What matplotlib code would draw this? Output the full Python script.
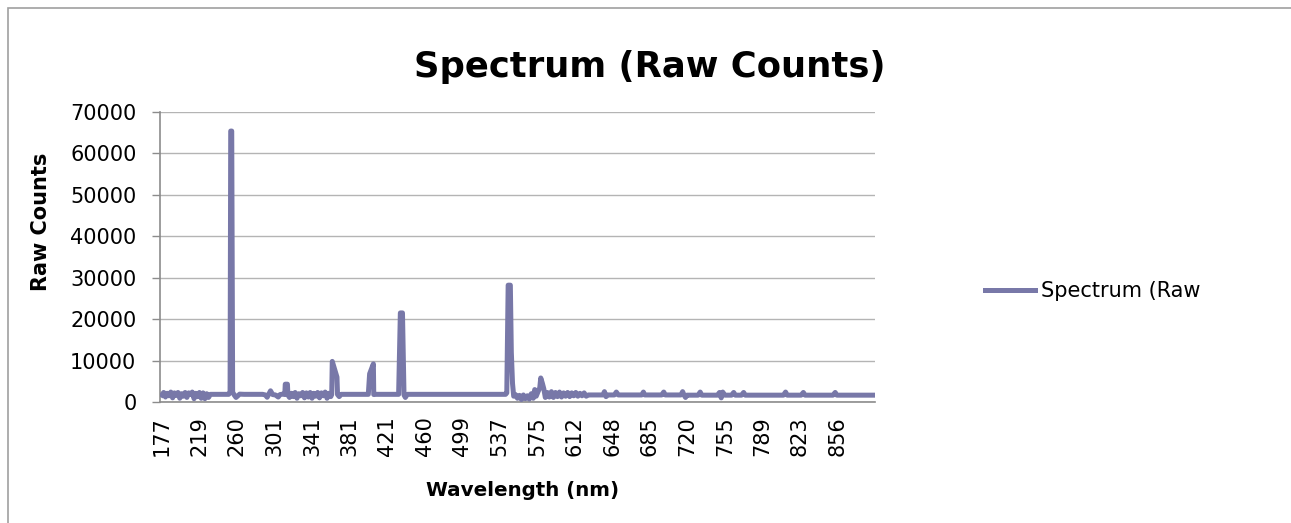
"""
Spectrum (Raw Counts): Hg lamp spectrum drawn on an Excel-like category axis.
"""

import matplotlib

matplotlib.use("Agg")

import matplotlib.pyplot as plt
import numpy as np
from matplotlib.lines import Line2D
from matplotlib.patches import Rectangle

plt.rcParams["font.family"] = ["DejaVu Sans"]

# category labels shown on the x axis (every Nth pixel of the spectrometer)
TICK_WL = [177, 219, 260, 301, 341, 381, 421, 460, 499, 537, 575, 612, 648, 685, 720, 755, 789, 823, 856]
AXIS_START_NM = 135  # one category step left of the first label (scale knot only)
AXIS_END_NM = 889  # last category at the right edge of the plot

# spectrum: wavelength (nm) and raw counts
WAVELENGTH = [
    177, 179, 181, 183, 185, 187, 189, 191, 193, 195, 197, 199, 201, 203, 205, 207, 209, 211, 213, 215,
    217, 219, 221, 223, 225, 227, 229, 231, 240, 251, 252.5, 253.2, 254.3, 255.3, 257, 259, 261, 263,
    268, 280, 288, 291, 293, 295, 296.7, 299, 302, 305, 307, 310, 312, 312.5, 314.8, 315.3, 317, 319,
    321, 323, 325, 327, 329, 331, 333, 335, 337, 339, 341, 343, 345, 347, 349, 351, 353, 355, 357, 359,
    361, 362, 362.6, 367.6, 368.2, 370, 372, 380, 390, 401, 402.4, 406.4, 406.8, 409, 420, 433, 434.8,
    435.6, 437.0, 438.6, 440, 442, 460, 480, 500, 520, 543, 544.2, 545.6, 546.6, 547.8, 548.8, 550,
    551.2, 553, 555, 557, 559, 561, 563, 565, 567, 569, 571, 572.5, 574, 576, 577.5, 578.5, 580, 581.5,
    583, 585, 587, 589, 591, 593, 595, 597, 599, 601, 603, 605, 607, 609, 611, 613, 615, 617, 619, 621,
    623, 625, 635, 639, 640.5, 642, 644, 650, 652, 654, 665, 677, 678.7, 680, 690, 696, 698, 699.5, 710,
    714, 715.6, 717, 718.3, 719.6, 730, 732, 733.5, 748, 750, 751.6, 753, 755, 761, 763, 764.5, 770, 772,
    773.5, 790, 808, 810, 811.5, 824, 826, 827.5, 852, 854, 855.5, 870, 889,
]
COUNTS = [
    1700, 2300, 1200, 2100, 1500, 2400, 1000, 2200, 1600, 2300, 900, 2000, 1400, 2300, 1100, 2200, 1800, 2400, 800, 2100,
    1300, 2300, 900, 2200, 800, 2000, 1100, 1850, 1850, 1850, 2300, 65400, 65400, 2400, 1700, 1100, 1500, 1900,
    1850, 1850, 1850, 1700, 1150, 2000, 2700, 1800, 1700, 1200, 1800, 1900, 1800, 4300, 4300, 1700, 1100, 2100,
    1300, 2300, 900, 2000, 1500, 2300, 1000, 2200, 1200, 2300, 900, 2100, 1400, 2300, 1000, 2200, 1500, 2400, 900, 2100,
    1300, 1800, 9800, 6000, 1800, 1300, 1850, 1850, 1850, 1850, 6800, 9200, 1800, 1850, 1850, 1850, 21500,
    21500, 21500, 1700, 1100, 1850, 1850, 1850, 1850, 1850, 1850, 2200, 28200, 28200, 28200, 12000, 4500,
    1400, 1800, 900, 1600, 600, 1700, 800, 1500, 700, 2000, 900, 3000, 1400, 2600, 3400, 5800, 4600, 3200,
    1100, 2300, 1200, 2500, 1100, 2300, 1300, 2400, 1200, 2200, 1400, 2300, 1300, 2200, 1500, 2300, 1400, 2100, 1500, 2200,
    1400, 1700, 1700, 1700, 2500, 1300, 1700, 1700, 2400, 1700, 1700, 1700, 2400, 1700, 1700, 1700, 2400, 1700, 1700,
    1700, 2500, 1650, 1100, 1650, 1650, 2400, 1650, 1650, 2300, 1000, 2400, 1650, 1650, 2300, 1650, 1650, 2300,
    1650, 1650, 1650, 2400, 1650, 1650, 2300, 1650, 1650, 2300, 1650, 1650, 1650,
]

LINE_COLOR = "#7878a8"
GRID_COLOR = "#b4b4b4"
AXIS_COLOR = "#8c8c8c"


def make_category_scale():
    knots_wl = np.array([AXIS_START_NM] + TICK_WL + [AXIS_END_NM], dtype=float)
    knots_ix = np.arange(-1, len(TICK_WL) + 1, dtype=float)

    def forward(w):
        return np.interp(w, knots_wl, knots_ix)

    def inverse(k):
        return np.interp(k, knots_ix, knots_wl)

    return forward, inverse


def main() -> None:
    fig = plt.figure(figsize=(12.91, 5.23), dpi=100)
    ax = fig.add_axes([160 / 1291, 1 - 402 / 523, 715 / 1291, 290 / 523])

    forward, inverse = make_category_scale()
    ax.set_xscale("function", functions=(forward, inverse))
    ax.set_xlim(inverse(-0.05), AXIS_END_NM)
    ax.set_ylim(0, 70000)

    ax.plot(WAVELENGTH, COUNTS, color=LINE_COLOR, lw=3.6, solid_joinstyle="round", zorder=3)

    ax.set_yticks(np.arange(0, 70001, 10000))
    ax.yaxis.grid(True, color=GRID_COLOR, lw=1.0)
    ax.set_axisbelow(True)
    ax.set_xticks(TICK_WL)
    ax.set_xticklabels([str(w) for w in TICK_WL], rotation=90)
    ax.xaxis.set_minor_locator(matplotlib.ticker.NullLocator())
    ax.tick_params(axis="x", length=0, pad=10, labelsize=15, colors="black")
    ax.tick_params(axis="y", length=6, width=1, color=AXIS_COLOR, pad=11, labelsize=15)
    for side in ("top", "right"):
        ax.spines[side].set_visible(False)
    for side in ("left", "bottom"):
        ax.spines[side].set_color(AXIS_COLOR)
        ax.spines[side].set_linewidth(1.2)

    fig.text(650 / 1291, 1 - 67 / 523, "Spectrum (Raw Counts)", ha="center", va="center",
             fontsize=25.5, fontweight="bold")
    fig.text(41 / 1291, 1 - 222 / 523, "Raw Counts", ha="center", va="center", rotation=90,
             fontsize=15, fontweight="bold")
    fig.text(523 / 1291, 1 - 491 / 523, "Wavelength (nm)", ha="center", va="center",
             fontsize=14.3, fontweight="bold")

    handle = Line2D([], [], color=LINE_COLOR, lw=3.6)
    fig.legend([handle], ["Spectrum (Raw"], loc="center left", bbox_to_anchor=(966 / 1291, 1 - 291 / 523),
               frameon=False, fontsize=15, handlelength=2.4, handletextpad=0.3)

    # outer chart-area border (only the top and left edges fall inside the picture)
    fig.patches.append(Rectangle((8 / 1291, -0.05), 1.2, 1 - 8 / 523 + 0.05, transform=fig.transFigure,
                                 fill=False, edgecolor="#a0a0a0", lw=1.2))

    fig.savefig("out.png", dpi=100)
    plt.close(fig)


if __name__ == "__main__":
    main()
